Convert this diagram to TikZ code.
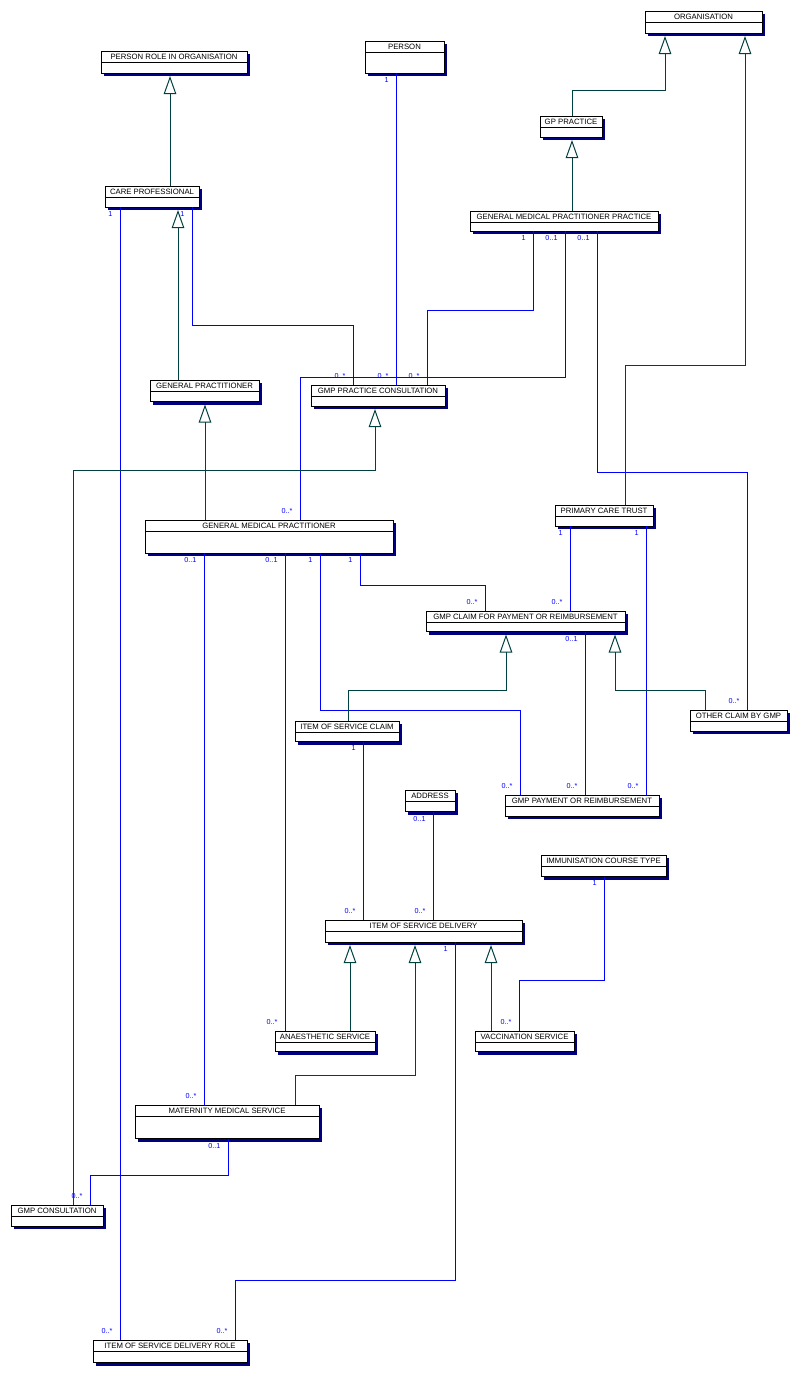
\documentclass[tikz,border=0pt]{standalone}
\usepackage{fontspec}
\setmainfont{Liberation Sans}
\usetikzlibrary{arrows.meta,shadows}
\definecolor{gencol}{RGB}{0,64,64}
\definecolor{assoccol}{RGB}{0,0,255}
\definecolor{shadowcol}{RGB}{0,0,128}

\begin{document}
\begin{tikzpicture}[x=1pt, y=-1pt,
	cls/.style 2 args={draw, fill=white, line width=1pt, inner sep=0pt, outer sep=0pt, anchor=north west,
		minimum width=#1pt, text height=8pt, text depth=#2pt, font=\fontsize{7.75}{8}\selectfont,
		drop shadow={shadow xshift=3pt, shadow yshift=-3pt, fill=shadowcol, opacity=1},
		path picture={\draw[line width=1pt] ([yshift=-11pt]path picture bounding box.north west) -- ([yshift=-11pt]path picture bounding box.north east);}},
	gen/.style={draw=gencol, line width=1pt, -{Triangle[open, length=18pt, width=12.5pt]}, shorten >=3pt},
	assoc/.style={draw=assoccol, line width=1pt},
	mult/.style={text=assoccol, inner sep=0pt, font=\fontsize{7.2}{7}\selectfont},
	mlo/.style={mult, anchor=north east, xshift=-7pt, yshift=-4pt},
	mhi/.style={mult, anchor=south east, xshift=-7pt, yshift=6pt}]

	\useasboundingbox (0,0) rectangle (801,1376);

	\draw (101,51) node[cls={146}{14}] (prio) {PERSON ROLE IN ORGANISATION} ;
	\draw (365,41) node[cls={79}{24}] (person) {PERSON} ;
	\draw (105,186) node[cls={94}{13}] (carepro) {CARE PROFESSIONAL} ;
	\draw (645,11) node[cls={117}{14}] (org) {ORGANISATION} ;
	\draw (540,116) node[cls={62}{13}] (gppract) {GP PRACTICE} ;
	\draw (470,211) node[cls={188}{12}] (gmpp) {GENERAL MEDICAL PRACTITIONER PRACTICE} ;
	\draw (150,380) node[cls={109}{13.5}] (genpract) {GENERAL PRACTITIONER} ;
	\draw (311,385) node[cls={134}{13}] (gpcons) {GMP PRACTICE CONSULTATION} ;
	\draw (145,520) node[cls={248}{25}] (gmp) {GENERAL MEDICAL PRACTITIONER} ;
	\draw (555,505) node[cls={98}{13}] (pct) {PRIMARY CARE TRUST} ;
	\draw (426,611) node[cls={199}{12.5}] (claim) {GMP CLAIM FOR PAYMENT OR REIMBURSEMENT} ;
	\draw (295,721) node[cls={104}{12.5}] (isclaim) {ITEM OF SERVICE CLAIM} ;
	\draw (690,710) node[cls={97}{13}] (other) {OTHER CLAIM BY GMP} ;
	\draw (505,795) node[cls={154}{13}] (payment) {GMP PAYMENT OR REIMBURSEMENT} ;
	\draw (405,790) node[cls={50}{13.5}] (address) {ADDRESS} ;
	\draw (541,855) node[cls={125}{13.5}] (immtype) {IMMUNISATION COURSE TYPE} ;
	\draw (325,920) node[cls={197}{14}] (isdel) {ITEM OF SERVICE DELIVERY} ;
	\draw (275,1031) node[cls={100}{12.5}] (anaes) {ANAESTHETIC SERVICE} ;
	\draw (475,1031) node[cls={99}{12.5}] (vacc) {VACCINATION SERVICE} ;
	\draw (135,1105) node[cls={184}{25.5}] (maternity) {MATERNITY MEDICAL SERVICE} ;
	\draw (11,1205) node[cls={92}{13}] (gmpcons) {GMP CONSULTATION} ;
	\draw (93,1340) node[cls={154}{14.5}] (isdrole) {ITEM OF SERVICE DELIVERY ROLE} ;

	\draw [assoc] ([xshift=31pt]person.south west) node[mlo] (a1s) {1} -- ([xshift=85pt]gpcons.north west) node[mhi] (a1e) {0..*} ;
	\draw [assoc] ([xshift=87pt]carepro.south west) node[mlo] (a2s) {1} -- ++(0,118) -| ([xshift=42pt]gpcons.north west) node[mhi] (a2e) {0..*} ;
	\draw [assoc] ([xshift=63pt]gmpp.south west) node[mlo] (a3s) {1} -- ++(0,79) -| ([xshift=116pt]gpcons.north west) node[mhi] (a3e) {0..*} ;
	\draw [assoc] ([xshift=95pt]gmpp.south west) node[mlo] (a4s) {0..1} -- ++(0,146) -| ([xshift=155pt]gmp.north west) node[mhi] (a4e) {0..*} ;
	\draw [assoc] ([xshift=127pt]gmpp.south west) node[mlo] (a5s) {0..1} -- ++(0,241) -| ([xshift=57pt]other.north west) node[mhi] (a5e) {0..*} ;
	\draw [assoc] ([xshift=15pt]carepro.south west) node[mlo] (a6s) {1} -- ([xshift=27pt]isdrole.north west) node[mhi] (a6e) {0..*} ;
	\draw [assoc] ([xshift=59pt]gmp.south west) node[mlo] (a7s) {0..1} -- ([xshift=69pt]maternity.north west) node[mhi] (a7e) {0..*} ;
	\draw [assoc] ([xshift=140pt]gmp.south west) node[mlo] (a8s) {0..1} -- ([xshift=10pt]anaes.north west) node[mhi] (a8e) {0..*} ;
	\draw [assoc] ([xshift=175pt]gmp.south west) node[mlo] (a9s) {1} -- ++(0,157) -| ([xshift=15pt]payment.north west) node[mhi] (a9e) {0..*} ;
	\draw [assoc] ([xshift=215pt]gmp.south west) node[mlo] (a10s) {1} -- ++(0,32) -| ([xshift=59pt]claim.north west) node[mhi] (a10e) {0..*} ;
	\draw [assoc] ([xshift=15pt]pct.south west) node[mlo] (a11s) {1} -- ([xshift=144pt]claim.north west) node[mhi] (a11e) {0..*} ;
	\draw [assoc] ([xshift=91pt]pct.south west) node[mlo] (a12s) {1} -- ([xshift=141pt]payment.north west) node[mhi] (a12e) {0..*} ;
	\draw [assoc] ([xshift=159pt]claim.south west) node[mlo] (a13s) {0..1} -- ([xshift=80pt]payment.north west) node[mhi] (a13e) {0..*} ;
	\draw [assoc] ([xshift=68pt]isclaim.south west) node[mlo] (a14s) {1} -- ([xshift=38pt]isdel.north west) node[mhi] (a14e) {0..*} ;
	\draw [assoc] ([xshift=28pt]address.south west) node[mlo] (a15s) {0..1} -- ([xshift=108pt]isdel.north west) node[mhi] (a15e) {0..*} ;
	\draw [assoc] ([xshift=63pt]immtype.south west) node[mlo] (a16s) {1} -- ++(0,103.5) -| ([xshift=44pt]vacc.north west) node[mhi] (a16e) {0..*} ;
	\draw [assoc] ([xshift=130pt]isdel.south west) node[mlo] (a17s) {1} -- ++(0,338) -| ([xshift=142pt]isdrole.north west) node[mhi] (a17e) {0..*} ;
	\draw [assoc] ([xshift=93pt]maternity.south west) node[mlo] (a18s) {0..1} -- ++(0,36.5) -| ([xshift=79pt]gmpcons.north west) node[mhi] (a18e) {0..*} ;

	\draw [gen] ([xshift=65pt]carepro.north west) -- ([xshift=69pt]prio.south west) ;
	\draw [gen] ([xshift=32pt]gppract.north west) -- ++(0,-26) -| ([xshift=20pt]org.south west) ;
	\draw [gen] ([xshift=70pt]pct.north west) -- ++(0,-140) -| ([xshift=100pt]org.south west) ;
	\draw [gen] ([xshift=102pt]gmpp.north west) -- ([xshift=32pt]gppract.south west) ;
	\draw [gen] ([xshift=28pt]genpract.north west) -- ([xshift=73pt]carepro.south west) ;
	\draw [gen] ([xshift=60pt]gmp.north west) -- ([xshift=55pt]genpract.south west) ;
	\draw [gen] ([xshift=62pt]gmpcons.north west) -- ++(0,-735) -| ([xshift=64pt]gpcons.south west) ;
	\draw [gen] ([xshift=53pt]isclaim.north west) -- ++(0,-31) -| ([xshift=80pt]claim.south west) ;
	\draw [gen] ([xshift=15pt]other.north west) -- ++(0,-20) -| ([xshift=189pt]claim.south west) ;
	\draw [gen] ([xshift=75pt]anaes.north west) -- ([xshift=25pt]isdel.south west) ;
	\draw [gen] ([xshift=160pt]maternity.north west) -- ++(0,-30) -| ([xshift=90pt]isdel.south west) ;
	\draw [gen] ([xshift=16pt]vacc.north west) -- ([xshift=166pt]isdel.south west) ;
\end{tikzpicture}
\end{document}
